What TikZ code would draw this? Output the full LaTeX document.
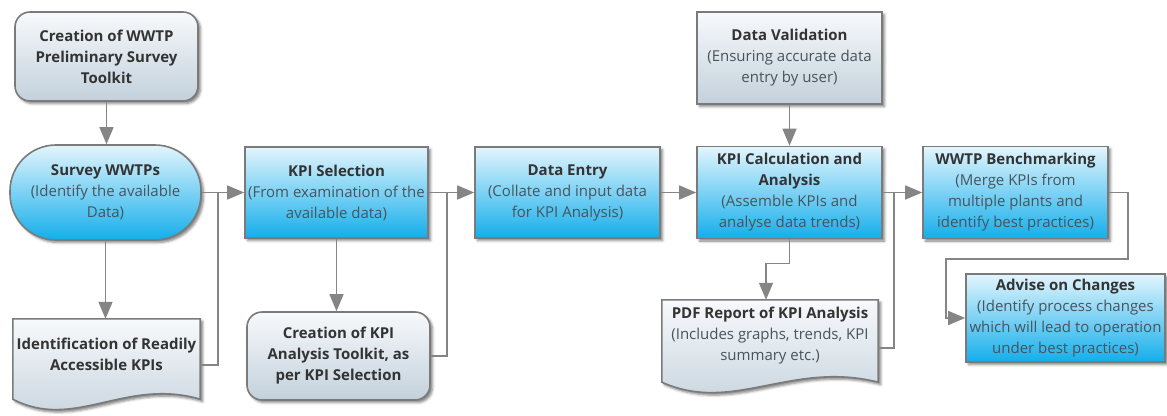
\documentclass[tikz,border=0pt]{standalone}
\usepackage{fontspec}
\setmainfont{Open Sans}
\usetikzlibrary{arrows.meta,shadows.blur,calc,backgrounds}
\definecolor{blueTop}{HTML}{E3F5FD}
\definecolor{blueBot}{HTML}{14AEEB}
\definecolor{grayTop}{HTML}{F7F9FB}
\definecolor{grayBot}{HTML}{C3D1DC}
\definecolor{edgeC}{HTML}{7A7A7A}
\definecolor{connC}{HTML}{858585}
\definecolor{titleC}{HTML}{333333}
\definecolor{subC}{HTML}{48545C}
\tikzset{
  shad/.style={blur shadow={shadow xshift=2.5pt, shadow yshift=-2.5pt, shadow blur radius=2.5pt, shadow opacity=50}},
  txt/.style={inner sep=0pt, align=center, font=\fontsize{15pt}{21pt}\selectfont, text=titleC},
  base/.style={txt, draw=edgeC, line width=1.6pt, shad},
  bluebox/.style={base, top color=blueTop, bottom color=blueBot},
  graybox/.style={base, top color=grayTop, bottom color=grayBot},
  docnode/.style={txt},
  docfill/.style={draw=edgeC, line width=1.6pt, top color=grayTop, bottom color=grayBot, shad},
  connline/.style={draw=connC, line width=1.4pt},
  arr/.style={connline, -{Triangle[length=17pt,width=14pt]}},
}
\newcommand{\ttl}[1]{\textbf{#1}}
\newcommand{\sbt}[1]{\textcolor{subC}{#1}}
\begin{document}
\begin{tikzpicture}[x=1pt,y=-1pt]
\useasboundingbox (0,0) rectangle (1167,415);

% nodes
\node[graybox, rounded corners=15pt, minimum width=183pt, minimum height=89pt] (n1) at (106.5,56.5)
  {\ttl{Creation of WWTP}\\\ttl{Preliminary Survey}\\\ttl{Toolkit}};
\node[bluebox, rounded corners=46pt, minimum width=191pt, minimum height=95pt] (survey) at (105.5,192.5)
  {\ttl{Survey WWTPs}\\\sbt{(Identify the available}\\\sbt{Data)}};
\node[bluebox, minimum width=183pt, minimum height=91pt] (kpisel) at (336.5,192.5)
  {\ttl{KPI Selection}\\\sbt{(From examination of the}\\\sbt{available data)}};
\node[docnode, minimum width=187pt, minimum height=70pt] (ident) at (106.5,354)
  {\ttl{Identification of Readily}\\\ttl{Accessible KPIs}};
\node[graybox, rounded corners=15pt, minimum width=183pt, minimum height=88pt] (ctk) at (338.5,356)
  {\ttl{Creation of KPI}\\\ttl{Analysis Toolkit, as}\\\ttl{per KPI Selection}};
\node[bluebox, minimum width=185pt, minimum height=91pt] (dentry) at (567.5,192.5)
  {\ttl{Data Entry}\\\sbt{(Collate and input data}\\\sbt{for KPI Analysis)}};
\node[bluebox, minimum width=185pt, minimum height=92pt] (kpicalc) at (789.5,192.5)
  {\ttl{KPI Calculation and}\\\ttl{Analysis}\\\sbt{(Assemble KPIs and}\\\sbt{analyse data trends)}};
\node[graybox, minimum width=185pt, minimum height=92pt] (dval) at (789.5,58)
  {\ttl{Data Validation}\\\sbt{(Ensuring accurate data}\\\sbt{entry by user)}};
\node[docnode, minimum width=216pt, minimum height=72pt] (pdf) at (770,336)
  {\ttl{PDF Report of KPI Analysis}\\\sbt{(Includes graphs, trends, KPI}\\\sbt{summary etc.)}};
\node[bluebox, minimum width=185pt, minimum height=92pt] (bench) at (1015.5,192.5)
  {\ttl{WWTP Benchmarking}\\\sbt{(Merge KPIs from}\\\sbt{multiple plants and}\\\sbt{identify best practices)}};
\node[bluebox, minimum width=199pt, minimum height=88pt] (advise) at (1065.5,318)
  {\ttl{Advise on Changes}\\\sbt{(Identify process changes}\\\sbt{which will lead to operation}\\\sbt{under best practices)}};

% document shapes
\begin{scope}[on background layer]
\foreach \d in {ident,pdf}{
  \path[docfill] (\d.north west) -- (\d.north east) -- ($(\d.south east)+(0,10)$)
    .. controls ($(\d.south west)!0.6!(\d.south east)+(0,-12)$) and ($(\d.south west)!0.33!(\d.south east)+(0,42)$)
    .. ($(\d.south west)+(0,10)$) -- cycle;
}
\end{scope}

% junction points
\coordinate (j1) at (218,192.5);
\coordinate (j2) at (447,192.5);
\coordinate (j3) at (894,192.5);
\coordinate (t1) at (1128,259);
\coordinate (t2) at (946,259);

% connectors
\draw[arr] (n1.south) -- (n1.south |- survey.north);
\draw[arr] (survey.east) -- (kpisel.west);
\draw[arr] (survey.south) -- (survey.south |- ident.north);
\draw[connline] ([yshift=-11pt]ident.east) -| (j1);
\draw[arr] (kpisel.south) -- (kpisel.south |- ctk.north);
\draw[connline] (ctk.east) -| (j2);
\draw[arr] (kpisel.east) -- (dentry.west);
\draw[arr] (dentry.east) -- (kpicalc.west);
\draw[arr] (dval.south) -- (kpicalc.north);
\draw[arr] (kpicalc.south) -- ++(0,24) -| ([xshift=-4pt]pdf.north);
\draw[connline] ([yshift=-12pt]pdf.east) -| (j3);
\draw[arr] (kpicalc.east) -- (bench.west);
\draw[arr] (bench.east) -| (t1) -- (t2) |- (advise.west);
\end{tikzpicture}
\end{document}
